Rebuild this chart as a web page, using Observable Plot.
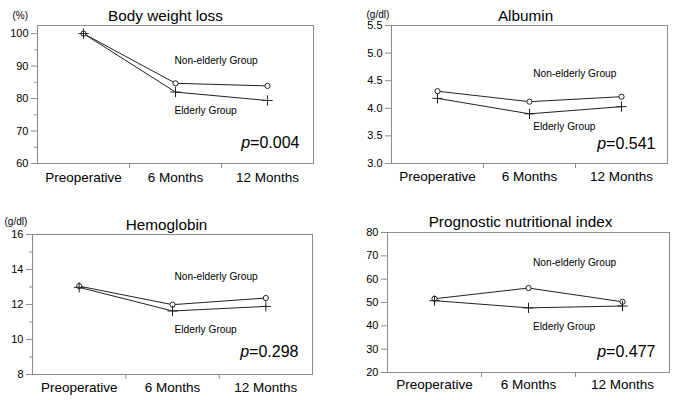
<!DOCTYPE html>
<html><head><meta charset="utf-8">
<script src="https://cdn.jsdelivr.net/npm/d3@7"></script>
<script src="https://cdn.jsdelivr.net/npm/@observablehq/plot@0.6"></script>
<style>
body{margin:0;background:#fff;}
#chart{position:relative;width:677px;height:400px;font-family:"Liberation Sans",Arial,sans-serif;}
#chart svg{position:absolute;}
</style></head><body><div id="chart"></div>
<script>
// ---- data ----
const categories = ["Preoperative", "6 Months", "12 Months"];
const groupLabels = ["Non-elderly Group", "Elderly Group"];

const titles = ["Body weight loss", "Albumin", "Hemoglobin", "Prognostic nutritional index"];
const units = ["(%)", "(g/dl)", "(g/dl)", ""];
const pValues = ["0.004", "0.541", "0.298", "0.477"];

const bwNonElderly = [100, 84.7, 83.9];
const bwElderly = [100, 82.0, 79.4];
const albNonElderly = [4.31, 4.12, 4.21];
const albElderly = [4.18, 3.90, 4.03];
const hbNonElderly = [13.05, 11.99, 12.37];
const hbElderly = [12.98, 11.63, 11.89];
const pniNonElderly = [51.6, 56.2, 50.3];
const pniElderly = [50.8, 47.7, 48.5];

const bwTicks = [60, 70, 80, 90, 100];
const bwMinor = [65, 75, 85, 95];
const albTicks = [3.0, 3.5, 4.0, 4.5, 5.0, 5.5];
const hbTicks = [8, 10, 12, 14, 16];
const hbMinor = [9, 11, 13, 15];
const pniTicks = [20, 30, 40, 50, 60, 70, 80];

// ---- panel layout ----
const panels = [
  {ne: bwNonElderly, e: bwElderly, ticks: bwTicks, minor: bwMinor, fmt: d3.format("d"), domain: [60, 102.5],
   left: 0, top: 0, width: 338, height: 200, mt: 25, mr: 25, mb: 37, ml: 37,
   titleDx: -10, titleY: 15, unitDx: -25, unitY: 14.5, labelDx: -1, labelY: [91.8, 76.1],
   pDx: -14, pY: 153, xPad: 9},
  {ne: albNonElderly, e: albElderly, ticks: albTicks, minor: [], fmt: d3.format(".1f"), domain: [3, 5.5],
   left: 337, top: 0, width: 340, height: 200, mt: 25, mr: 10, mb: 37, ml: 54,
   titleDx: -4, titleY: 15, unitDx: -25, unitY: 13.5, labelDx: 3.7, labelY: [4.63, 3.67],
   pDx: -12, pY: 153.3, xPad: 8},
  {ne: hbNonElderly, e: hbElderly, ticks: hbTicks, minor: hbMinor, fmt: d3.format("d"), domain: [8, 16],
   left: 0, top: 200, width: 338, height: 200, mt: 34, mr: 26, mb: 26, ml: 32,
   titleDx: -6, titleY: 23.3, unitDx: -28, unitY: 21, labelDx: 2, labelY: [13.57, 10.58],
   pDx: -14, pY: 161.7, xPad: 8},
  {ne: pniNonElderly, e: pniElderly, ticks: pniTicks, minor: [], fmt: d3.format("d"), domain: [20, 80],
   left: 337, top: 200, width: 340, height: 200, mt: 32, mr: 8, mb: 28, ml: 50,
   titleDx: -8, titleY: 20.7, unitDx: -25, unitY: 13, labelDx: 4.5, labelY: [67.0, 39.7],
   pDx: -14, pY: 161.7, xPad: 7}
];

const INK = "#222";
const GRID = "#8c8c8c";
const container = document.getElementById("chart");

panels.forEach((p, k) => {
  const rows = categories.flatMap((c, i) => [
    {time: c, i, group: groupLabels[0], value: p.ne[i]},
    {time: c, i, group: groupLabels[1], value: p.e[i]}
  ]);
  const xOf = d => categories.indexOf(d.time) + 0.5;
  const titleFs = 15.3, unitFs = 10, labelFs = 10.2, pFs = 16;
  const marks = [
    Plot.frame({stroke: GRID}),
    Plot.axisY(p.ticks, {tickSize: 6, tickPadding: 3, fontSize: 11, stroke: GRID, fill: "#000", tickFormat: p.fmt, label: null}),
    Plot.axisX([1, 2], {tickSize: 5, stroke: GRID, tickFormat: () => "", label: null}),
    Plot.axisX(categories.map((c, i) => i + 0.5), {tickSize: 0, tickPadding: p.xPad, fontSize: 13.5, fill: "#000",
      tickFormat: v => categories[Math.round(v - 0.5)], label: null}),
    Plot.line(rows, {x: xOf, y: "value", z: "group", stroke: INK, strokeWidth: 1}),
    Plot.dot(rows.filter(d => d.group === groupLabels[0]), {x: xOf, y: "value", symbol: "circle", r: 2.6, stroke: INK, fill: "white", strokeWidth: 1}),
    Plot.dot(rows.filter(d => d.group === groupLabels[1]), {x: xOf, y: "value", symbol: "plus", r: 3.4, stroke: INK, strokeWidth: 1}),
    Plot.text([titles[k]], {frameAnchor: "top", dx: p.titleDx, dy: p.titleY - 0.32 * titleFs - p.mt, fontSize: titleFs, fill: "#000"}),
    Plot.text(groupLabels.map((g, j) => ({g, y: p.labelY[j]})), {x: 1.5, y: "y", text: "g", textAnchor: "start", dx: p.labelDx, fontSize: labelFs, fill: "#000"}),
    Plot.text(["p=" + pValues[k]], {frameAnchor: "bottom-right", textAnchor: "end", dx: p.pDx,
      dy: p.pY - 0.32 * pFs - (p.height - p.mb), fontSize: pFs, fill: "#000"})
  ];
  if (p.minor.length) marks.push(Plot.axisY(p.minor, {tickSize: 3, stroke: GRID, tickFormat: () => "", label: null}));
  if (units[k]) marks.push(Plot.text([units[k]], {frameAnchor: "top-left", textAnchor: "start", dx: p.unitDx,
      dy: p.unitY - 0.32 * unitFs - p.mt, fontSize: unitFs, fill: "#000"}));

  const svg = Plot.plot({
    width: p.width, height: p.height,
    marginTop: p.mt, marginRight: p.mr, marginBottom: p.mb, marginLeft: p.ml,
    x: {domain: [0, 3]},
    y: {domain: p.domain},
    style: {fontFamily: "'Liberation Sans', Arial, sans-serif", background: "transparent", overflow: "visible"},
    marks
  });
  d3.select(svg).selectAll("text").each(function() {
    const t = this.textContent;
    if (t.startsWith("p=")) {
      const el = d3.select(this);
      el.text(null);
      el.append("tspan").attr("font-style", "italic").text("p");
      el.append("tspan").text(t.slice(1));
    }
  });
  svg.style.left = p.left + "px";
  svg.style.top = p.top + "px";
  container.appendChild(svg);
});
</script></body></html>
